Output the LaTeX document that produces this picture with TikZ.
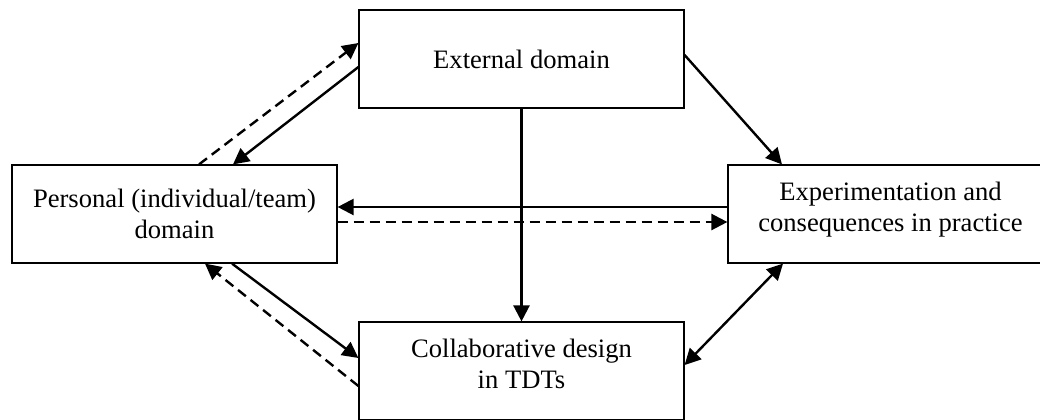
\documentclass[tikz,border=0pt]{standalone}
\usepackage{fontspec}
\setmainfont{Liberation Serif}
\usetikzlibrary{arrows.meta,positioning}

\tikzset{
  domainbox/.style={draw, line width=0.6pt, minimum width=162.5pt, minimum height=49pt,
    inner sep=0pt, align=center, font=\fontsize{13.3}{15.5}\selectfont},
  flow/.style={line width=1.2pt, ->},
  back/.style={flow, dash pattern=on 5pt off 3pt},
}

\begin{document}
\begin{tikzpicture}[x=0.5pt, y=-0.5pt, >={Triangle[length=8pt,width=8pt]}]
    \useasboundingbox (0,0) rectangle (1040,419);
    \clip (0,0) rectangle (1040,419);
    % the four domains
    \node[domainbox] (ext) at (521.5,59) {External domain};
    \node[domainbox] (pers) at (174.5,214) {Personal (individual/team)\\domain};
    \node[domainbox, text depth=7pt] (expt) at (890.5,214) {Experimentation and\\consequences in practice};
    \node[domainbox, text depth=7pt] (collab) at (521.5,371) {Collaborative design\\in TDTs};

    % from the external domain
    \draw[flow] ([yshift=-4pt]ext.west) -- ([xshift=29.25pt]pers.north);
    \draw[back] ([xshift=12.25pt]pers.north) -- ([yshift=8pt]ext.west);
    \draw[flow] ([yshift=2pt]ext.east) -- ([xshift=-54.25pt]expt.north);
    \draw[flow] (ext.south) -- (collab.north);

    % personal domain <-> practice
    \draw[flow] ([yshift=3.5pt]expt.west) -- ([yshift=3.5pt]pers.east);
    \draw[back] ([yshift=-4pt]pers.east) -- ([yshift=-4pt]expt.west);

    % personal domain <-> collaborative design
    \draw[flow] ([xshift=28.75pt]pers.south) -- ([yshift=6.5pt]collab.west);
    \draw[back] ([yshift=-7.5pt]collab.west) -- ([xshift=15.25pt]pers.south);

    % practice <-> collaborative design
    \draw[flow, <->] ([yshift=3pt]collab.east) -- ([xshift=-53.75pt]expt.south);
\end{tikzpicture}
\end{document}
